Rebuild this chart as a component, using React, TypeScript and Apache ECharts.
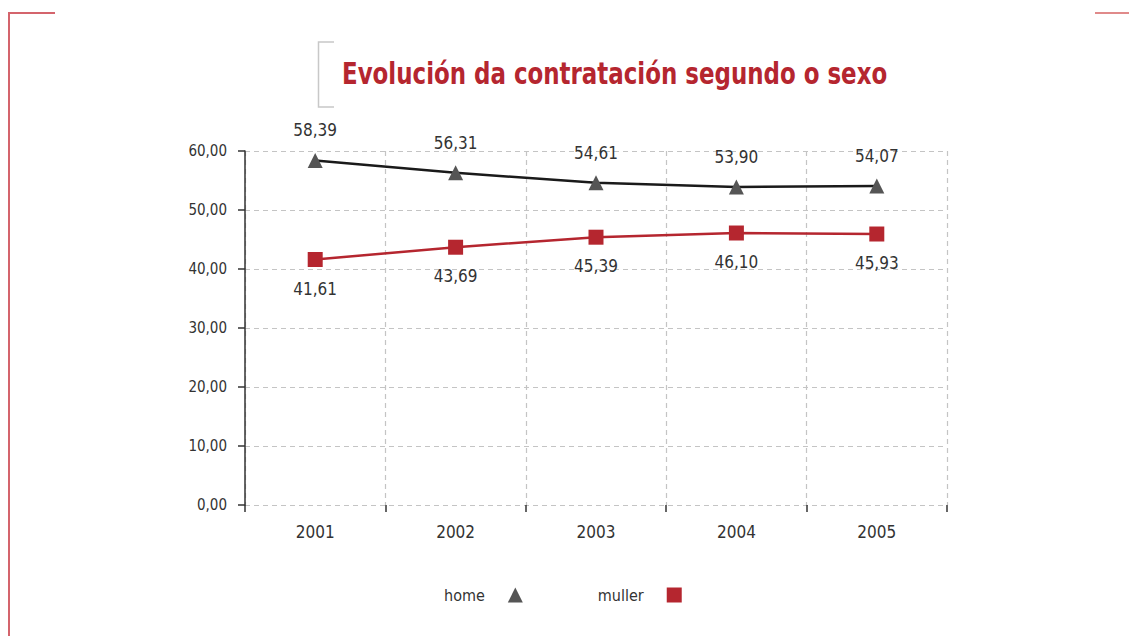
import React, { useEffect, useRef } from "react";
import * as echarts from "echarts";

const years = ["2001", "2002", "2003", "2004", "2005"];
const home = [58.39, 56.31, 54.61, 53.9, 54.07];
const muller = [41.61, 43.69, 45.39, 46.1, 45.93];
const titleText = "Evolución da contratación segundo o sexo";

const FONT = "'DejaVu Sans Condensed', 'DejaVu Sans', sans-serif";
const RED = "#b5262f";
const fmt = (v: number) => v.toFixed(2).replace(".", ",");

export default function App() {
  const ref = useRef<HTMLDivElement>(null);
  useEffect(() => {
    if (!ref.current) return;
    const chart = echarts.init(ref.current, undefined, { renderer: "svg" });
    chart.setOption({
      animation: false,
      backgroundColor: "#ffffff",
      textStyle: { fontFamily: FONT },
      graphic: [
        {
          type: "polyline",
          shape: { points: [[55, 13], [9, 13], [9, 636]] },
          style: { stroke: "#d4646c", lineWidth: 2, fill: "none" },
        },
        {
          type: "line",
          shape: { x1: 1095, y1: 13, x2: 1129, y2: 13 },
          style: { stroke: "#e08a8a", lineWidth: 2 },
        },
        {
          type: "polyline",
          shape: { points: [[334, 42], [318.5, 42], [318.5, 107], [334, 107]] },
          style: { stroke: "#c8c8c8", lineWidth: 1.5, fill: "none" },
        },
        {
          type: "text",
          x: 342,
          y: 59,
          scaleX: 0.85,
          style: {
            text: titleText,
            fill: RED,
            font: "bold 30px 'DejaVu Sans Condensed', 'DejaVu Sans', sans-serif",
            textVerticalAlign: "top",
          },
        },
      ],
      legend: {
        left: 439,
        top: 582,
        align: "right",
        itemWidth: 15,
        itemHeight: 15,
        itemGap: 75,
        textStyle: { fontFamily: FONT, fontSize: 16, color: "#333", padding: [0, 18, 0, 0] },
        data: [
          { name: "home", icon: "triangle", itemStyle: { color: "#555555" } },
          { name: "muller", icon: "rect", itemStyle: { color: RED } },
        ],
      },
      grid: { left: 245, right: 182, top: 151, bottom: 131, containLabel: false },
      xAxis: {
        type: "category",
        data: years,
        boundaryGap: true,
        axisLine: { show: false },
        axisTick: { show: true, length: 7, lineStyle: { color: "#333", width: 1.5 } },
        axisLabel: { fontFamily: FONT, fontSize: 17, color: "#333", margin: 18 },
        splitLine: { show: true, lineStyle: { color: "#c4c4c4", type: [5, 4], width: 1.2 } },
      },
      yAxis: {
        type: "value",
        min: 0,
        max: 60,
        interval: 10,
        axisLine: { show: true, lineStyle: { color: "#333", width: 1.5 } },
        axisTick: { show: true, length: 7, lineStyle: { color: "#333", width: 1.5 } },
        axisLabel: { fontFamily: FONT, fontSize: 15, color: "#333", margin: 18, formatter: (v: number) => fmt(v) },
        splitLine: { show: true, lineStyle: { color: "#c4c4c4", type: [5, 4], width: 1.2 } },
      },
      series: [
        {
          name: "home",
          type: "line",
          data: home,
          symbol: "triangle",
          symbolSize: 15,
          itemStyle: { color: "#555555" },
          lineStyle: { color: "#1a1a1a", width: 2.5 },
          label: {
            show: true,
            position: "top",
            distance: 14,
            fontFamily: FONT,
            fontSize: 17,
            color: "#333",
            formatter: (p: any) => fmt(p.value),
          },
        },
        {
          name: "muller",
          type: "line",
          data: muller,
          symbol: "rect",
          symbolSize: 15,
          itemStyle: { color: RED },
          lineStyle: { color: RED, width: 2.5 },
          label: {
            show: true,
            position: "bottom",
            distance: 13,
            fontFamily: FONT,
            fontSize: 17,
            color: "#333",
            formatter: (p: any) => fmt(p.value),
          },
        },
      ],
    });
    return () => chart.dispose();
  }, []);
  return (
    <div
      ref={ref}
      style={{ position: "fixed", left: 0, top: 0, width: 1129, height: 636 }}
    />
  );
}
